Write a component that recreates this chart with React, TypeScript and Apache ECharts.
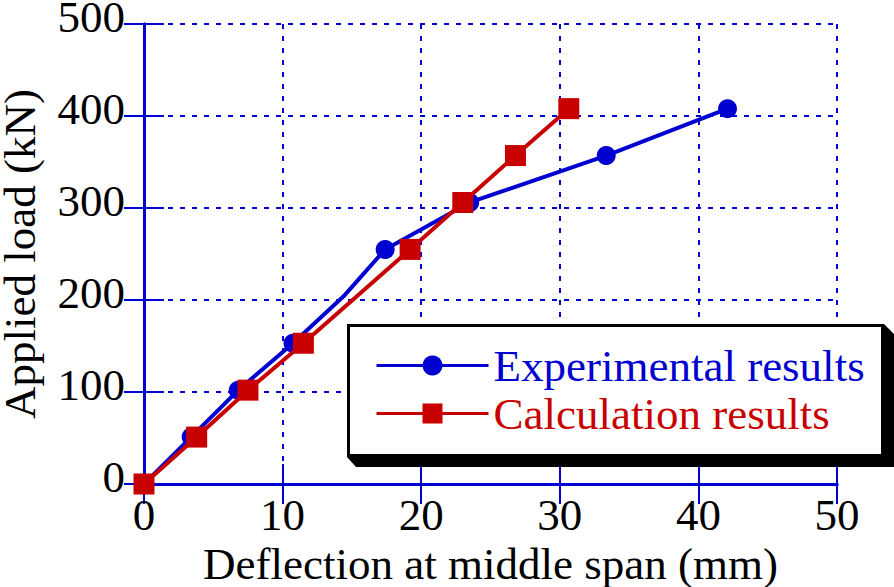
import React, { useEffect, useRef } from "react";
import * as echarts from "echarts";

const BLUE = "#0000D0";
const RED = "#C80000";
const FONT = "'Liberation Serif', 'Times New Roman', serif";

// Experimental results (deflection mm, load kN)
const expDeflection = [0, 3.4, 6.8, 10.75, 14.4, 17.4, 23.5, 33.35, 42.1];
const expLoad = [0, 51, 102, 153, 204, 255, 306, 357, 408];
const expMarker = [true, true, true, true, false, true, true, true, true];

// Calculation results
const calcDeflection = [0, 3.8, 7.5, 11.5, 19.2, 23.0, 26.8, 30.65];
const calcLoad = [0, 51, 102, 153, 255, 306, 357, 408];

const xTicks = [0, 10, 20, 30, 40, 50];
const yTicks = [0, 100, 200, 300, 400, 500];

const seriesNames = ["Experimental results", "Calculation results"];

export default function App() {
  const ref = useRef<HTMLDivElement>(null);
  useEffect(() => {
    document.body.style.margin = "0";
    if (!ref.current) return;
    const chart = echarts.init(ref.current, null, { renderer: "svg" });
    const tickCommon = {
      show: true,
      inside: true,
      length: 20,
      lineStyle: { color: BLUE, width: 2 },
    };
    const axisLineCommon = { show: true, lineStyle: { color: BLUE, width: 3 } };
    const splitCommon = {
      show: true,
      lineStyle: { color: BLUE, width: 2, type: [5, 7] as any },
    };
    const option: any = {
      animation: false,
      backgroundColor: "#ffffff",
      grid: {
        left: 144,
        right: 57,
        top: 24,
        bottom: 103,
        containLabel: false,
        outerBoundsMode: "none",
      },
      xAxis: [
        {
          type: "value",
          min: xTicks[0],
          max: xTicks[xTicks.length - 1],
          interval: 10,
          position: "bottom",
          name: "Deflection at middle span (mm)",
          nameLocation: "middle",
          nameGap: 53,
          nameTextStyle: { fontFamily: FONT, fontSize: 45, color: "#000" },
          axisLine: axisLineCommon,
          axisTick: tickCommon,
          splitLine: splitCommon,
          axisLabel: {
            fontFamily: FONT,
            fontSize: 45,
            color: "#000",
            margin: 8,
          },
        },
        {
          type: "value",
          min: xTicks[0],
          max: xTicks[xTicks.length - 1],
          interval: 10,
          position: "top",
          axisLine: axisLineCommon,
          axisTick: tickCommon,
          splitLine: { show: false },
          axisLabel: { show: false },
        },
      ],
      yAxis: [
        {
          type: "value",
          min: yTicks[0],
          max: yTicks[yTicks.length - 1],
          interval: 100,
          position: "left",
          name: "Applied load (kN)",
          nameLocation: "middle",
          nameGap: 102,
          nameTextStyle: { fontFamily: FONT, fontSize: 45, color: "#000" },
          axisLine: axisLineCommon,
          axisTick: tickCommon,
          splitLine: splitCommon,
          axisLabel: {
            fontFamily: FONT,
            fontSize: 45,
            color: "#000",
            margin: 19,
            verticalAlign: "bottom",
            lineHeight: 14,
          },
        },
        {
          type: "value",
          min: yTicks[0],
          max: yTicks[yTicks.length - 1],
          interval: 100,
          position: "right",
          axisLine: axisLineCommon,
          axisTick: tickCommon,
          splitLine: { show: false },
          axisLabel: { show: false },
        },
      ],
      graphic: [
        {
          type: "polygon",
          z: 10,
          shape: {
            points: [
              [347, 457],
              [356, 467],
              [894, 467],
              [894, 334],
              [884, 324],
              [884, 457],
            ],
          },
          style: { fill: "#000" },
        },
        {
          type: "rect",
          z: 11,
          shape: { x: 348.5, y: 325.5, width: 534, height: 130 },
          style: { fill: "#fff", stroke: "#000", lineWidth: 3 },
        },
      ],
      legend: {
        z: 20,
        orient: "vertical",
        left: 370,
        top: 338,
        itemWidth: 112,
        itemHeight: 25,
        itemGap: 3,
        lineStyle: { width: 3 },
        textStyle: {
          fontFamily: FONT,
          fontSize: 45,
          lineHeight: 45,
        },
        data: [
          { name: seriesNames[0], textStyle: { color: BLUE } },
          { name: seriesNames[1], textStyle: { color: RED } },
        ],
      },
      series: [
        {
          name: seriesNames[0],
          type: "line",
          z: 3,
          symbol: "circle",
          symbolSize: 19,
          color: BLUE,
          lineStyle: { color: BLUE, width: 4 },
          itemStyle: { color: BLUE },
          data: expDeflection.map((x, i) =>
            expMarker[i]
              ? [x, expLoad[i]]
              : { value: [x, expLoad[i]], symbol: "none" }
          ),
        },
        {
          name: seriesNames[1],
          type: "line",
          z: 4,
          symbol: "rect",
          symbolSize: 21,
          color: RED,
          lineStyle: { color: RED, width: 4 },
          itemStyle: { color: RED },
          data: calcDeflection.map((x, i) => [x, calcLoad[i]]),
        },
      ],
    };
    chart.setOption(option);
    return () => chart.dispose();
  }, []);
  return <div ref={ref} style={{ width: 894, height: 587 }} />;
}
